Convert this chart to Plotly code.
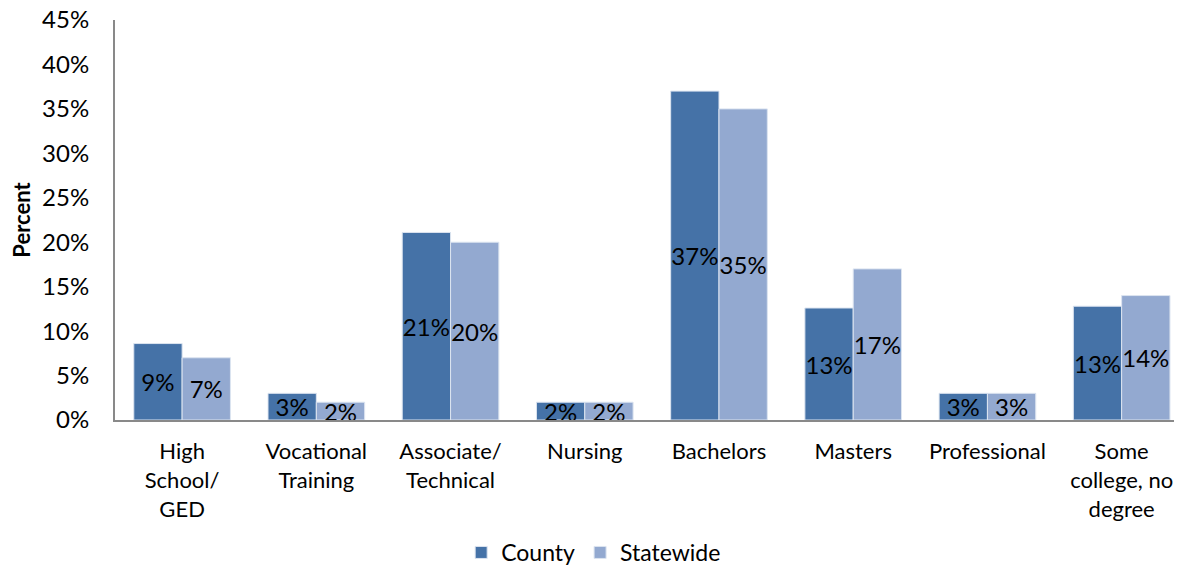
import plotly.graph_objects as go

categories = ["High<br>School/<br>GED", "Vocational<br>Training", "Associate/<br>Technical",
              "Nursing", "Bachelors", "Masters", "Professional", "Some<br>college, no<br>degree"]
county = [8.6, 3.0, 21.1, 2.0, 37.0, 12.6, 3.0, 12.8]
statewide = [7.0, 2.0, 20.0, 2.0, 35.0, 17.0, 3.0, 14.0]
y_ticks = [0, 5, 10, 15, 20, 25, 30, 35, 40, 45]

FONT = "Lato"
x = list(range(len(categories)))

fig = go.Figure()
for name, vals, color in [("County", county, "#4572A7"), ("Statewide", statewide, "#93A9D0")]:
    fig.add_trace(go.Bar(
        x=x, y=vals, name=name,
        marker=dict(color=color, line=dict(color="#DCE4F0", width=1)),
        text=[f"{v:.0f}%" for v in vals],
        textposition="inside", insidetextanchor="middle", constraintext="none", textangle=0,
        textfont=dict(family=FONT, size=24, color="black"),
        cliponaxis=False,
    ))

fig.update_layout(
    width=1166, height=559,
    margin=dict(l=107, r=0, t=12, b=147, autoexpand=False),
    paper_bgcolor="white", plot_bgcolor="white",
    barmode="group", bargap=0.28, bargroupgap=0,
    font=dict(family=FONT, size=23, color="black"),
    showlegend=True,
    legend=dict(orientation="h", x=0.452, xanchor="center",
                y=-0.385, yanchor="bottom",
                font=dict(family=FONT, size=23), traceorder="normal", itemwidth=30),
    xaxis=dict(tickmode="array", tickvals=x, ticktext=categories, range=[-0.5, 7.39],
               showline=True, linecolor="#898989", linewidth=2, ticks="", showgrid=False,
               tickfont=dict(family=FONT, size=22), ticklabelstandoff=11, automargin=False,
               tickangle=0, ticklabeloverflow="allow"),
    yaxis=dict(range=[0, 45], tickvals=y_ticks, ticktext=[f"{t}%" for t in y_ticks],
               showline=True, linecolor="#898989", linewidth=2, ticks="", showgrid=False,
               zeroline=False, tickfont=dict(family=FONT, size=24), ticklabelstandoff=19,
               automargin=False, ticklabeloverflow="allow",
               title=dict(text="<b>Percent</b>", font=dict(family=FONT, size=22), standoff=10)),
)

fig.write_html("out.html")
